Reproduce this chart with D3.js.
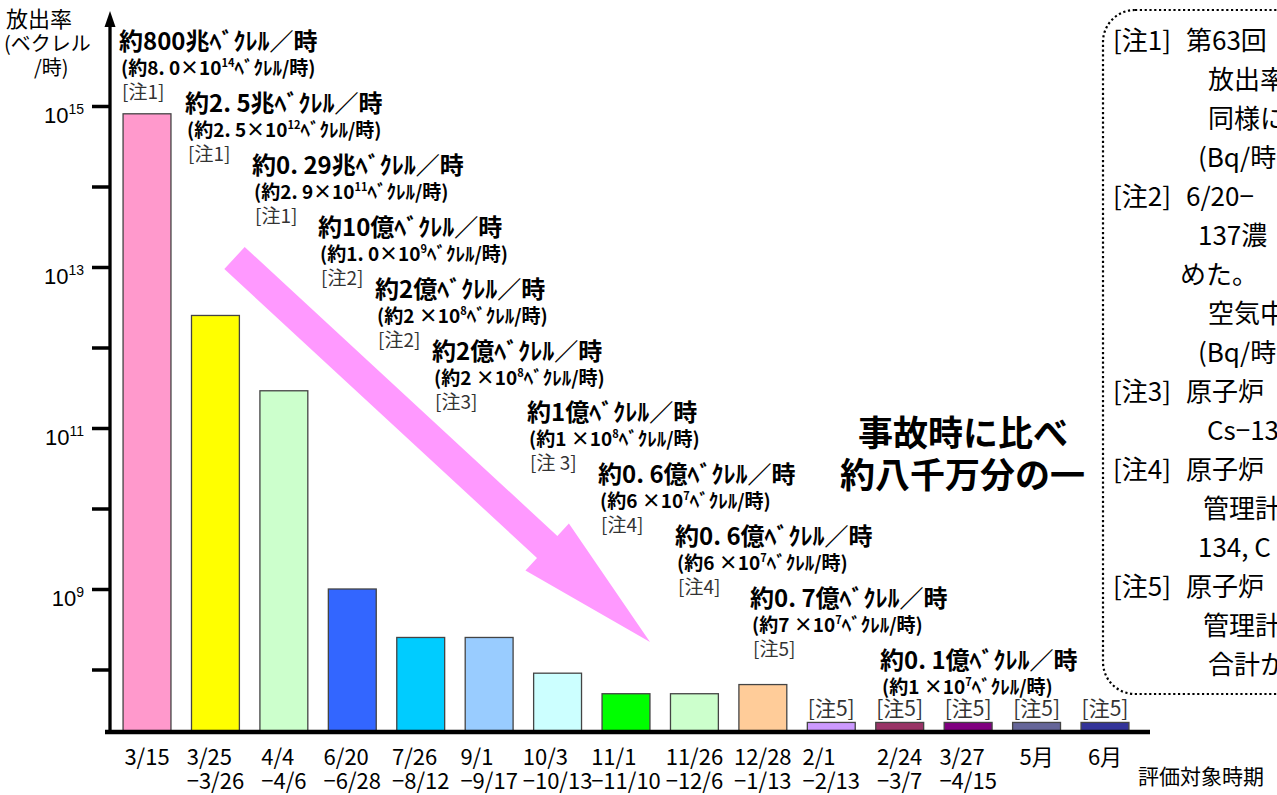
<!DOCTYPE html>
<html><head><meta charset="utf-8">
<script src="https://cdn.jsdelivr.net/npm/d3@7"></script>
<style>
html,body{margin:0;padding:0;background:#fff;}
svg{display:block;background:#fff;}
</style></head><body>
<svg id="chart" width="1277" height="795"></svg>
<script>
// ---------- data ----------
const categories = ["3/15","3/25","4/4","6/20","7/26","9/1","10/3","11/1","11/26","12/28","2/1","2/24","3/27","5月","6月"];
const periodEnds = ["","−3/26","−4/6","−6/28","−8/12","−9/17","−10/13","−11/10","−12/6","−1/13","−2/13","−3/7","−4/15","",""];
const releaseRates = [8e14, 2.5e12, 2.9e11, 1e9, 2.5e8, 2.5e8, 9e7, 5e7, 5e7, 6.5e7, 2.2e7, 2.2e7, 2.2e7, 2.2e7, 2.2e7];
const barColors = ["#FF99CC","#FFFF00","#CCFFCC","#3366FF","#00CCFF","#99CCFF","#CCFFFF","#00FF00","#CCFFCC","#FFCC99","#CC99FF","#993366","#800080","#666699","#333399"];

const rateLabels = ["約800兆ﾍﾞｸﾚﾙ／時","約2. 5兆ﾍﾞｸﾚﾙ／時","約0. 29兆ﾍﾞｸﾚﾙ／時","約10億ﾍﾞｸﾚﾙ／時","約2億ﾍﾞｸﾚﾙ／時","約2億ﾍﾞｸﾚﾙ／時","約1億ﾍﾞｸﾚﾙ／時","約0. 6億ﾍﾞｸﾚﾙ／時","約0. 6億ﾍﾞｸﾚﾙ／時","約0. 7億ﾍﾞｸﾚﾙ／時","約0. 1億ﾍﾞｸﾚﾙ／時"];
const rateMantissa = ["8. 0","2. 5","2. 9","1. 0","2 ","2 ","1 ","6 ","6 ","7 ","1 "];
const rateExponent = [14,12,11,9,8,8,8,7,7,7,7];
const noteRefs = ["[注1]","[注1]","[注1]","[注2]","[注2]","[注3]","[注 3]","[注4]","[注4]","[注5]"];
const lastNoteRefs = ["[注5]","[注5]","[注5]","[注5]","[注5]"];

const yTickExponents = [8,9,10,11,12,13,14,15];
const yTickLabeled = [9,11,13,15];

const notePrefixes = ["[注1]","","","","[注2]","","","","","[注3]","","[注4]","","","[注5]","",""];
const notesText = ["第63回","放出率","同様に","(Bq/時","6/20−","137濃","めた。","空気中","(Bq/時","原子炉","Cs−13","原子炉","管理計","134, C","原子炉","管理計","合計か"];

// ---------- layout (positions only) ----------
const annotX = [119,185,252,318,375,432,527,598,675,750,880];
const noteIndentX = [1186,1208,1208,1198,1186,1198,1180,1208,1198,1186,1207,1186,1203,1198,1186,1203,1208];

const FONT_JP = "'Noto Sans CJK JP','Noto Sans',sans-serif";
const FONT_LAT = "'Liberation Sans',Arial,sans-serif";

const svg = d3.select("#chart");
const x = d3.scaleBand().domain(categories).range([112.8,1139.2]).paddingInner(0.3).paddingOuter(0.15);
const y = d3.scaleLog().domain([1e9,1e15]).range([589,106]);
const baseY = 732;

// ---------- big arrow ----------
function arrowPath(x0,y0,x1,y1,sw,hw,hl){
  const dx=x1-x0, dy=y1-y0, L=Math.hypot(dx,dy), ux=dx/L, uy=dy/L, nx=-uy, ny=ux;
  const bx=x1-ux*hl, by=y1-uy*hl;
  const p=[[x0+nx*sw/2,y0+ny*sw/2],[bx+nx*sw/2,by+ny*sw/2],[bx+nx*hw/2,by+ny*hw/2],[x1,y1],
           [bx-nx*hw/2,by-ny*hw/2],[bx-nx*sw/2,by-ny*sw/2],[x0-nx*sw/2,y0-ny*sw/2]];
  return "M"+p.map(q=>q.join(",")).join("L")+"Z";
}
svg.append("path").attr("d",arrowPath(234.5,258,650,642,30,64,140)).attr("fill","#FF99FF");

// ---------- bars ----------
svg.append("g").selectAll("rect").data(categories).join("rect")
  .attr("x",d=>x(d)).attr("y",(d,i)=>y(releaseRates[i]))
  .attr("width",x.bandwidth()).attr("height",(d,i)=>baseY-y(releaseRates[i]))
  .attr("fill",(d,i)=>barColors[i]).attr("stroke","#444").attr("stroke-width",1.3);

// ---------- axes ----------
const yAxisG = svg.append("g").attr("transform","translate(110,0)")
  .call(d3.axisLeft(y).tickValues(yTickExponents.map(e=>Math.pow(10,e))).tickSize(18).tickFormat(""));
yAxisG.select(".domain").remove();
yAxisG.selectAll(".tick line").attr("stroke","#000").attr("stroke-width",3.5);
svg.append("line").attr("x1",110).attr("x2",110).attr("y1",baseY+2).attr("y2",24).attr("stroke","#000").attr("stroke-width",3.3);
svg.append("path").attr("d","M104.5,27L110,11L115.5,27Z").attr("fill","#000");
svg.append("line").attr("x1",105).attr("x2",1150).attr("y1",baseY).attr("y2",baseY).attr("stroke","#000").attr("stroke-width",4.5);

yTickLabeled.forEach(e=>{
  const t = svg.append("text").attr("x",84).attr("y",y(Math.pow(10,e))+17)
    .attr("text-anchor","end").attr("font-family",FONT_LAT).attr("font-size",22).attr("fill","#000");
  t.append("tspan").text("10");
  t.append("tspan").attr("font-size",14).attr("dy",-9).text(e);
});

// y title
const yt = svg.append("g").attr("font-family",FONT_JP).attr("fill","#000");
yt.append("text").attr("x",6).attr("y",27).attr("font-size",22).text("放出率");
yt.append("text").attr("x",4).attr("y",51).attr("font-size",20).text("(ベクレル");
yt.append("text").attr("x",34).attr("y",75).attr("font-size",20).text("/時)");

// x labels
categories.forEach((c,i)=>{
  const cx = x(c)+x.bandwidth()/2;
  const t = svg.append("text").attr("font-family",FONT_JP).attr("font-size",22).attr("fill","#000");
  const a = t.append("tspan").attr("y",765).text(c);
  let b = null;
  if(periodEnds[i]) b = t.append("tspan").attr("y",789).text(periodEnds[i]);
  const w = Math.max(a.node().getComputedTextLength(), b ? b.node().getComputedTextLength() : 0);
  const left = cx - w/2;
  a.attr("x",left); if(b) b.attr("x",left);
});
svg.append("text").attr("x",1138).attr("y",784).attr("font-family",FONT_JP).attr("font-size",21).text("評価対象時期");

// ---------- value annotations ----------
rateLabels.forEach((lab,i)=>{
  const gx = annotX[i], gc = 41 + 61.9*i;
  svg.append("text").attr("x",gx).attr("y",gc+9).attr("font-family",FONT_JP).attr("font-weight",700)
    .attr("font-size",24).attr("fill","#000").text(lab);
  const t2 = svg.append("text").attr("x",gx+2).attr("y",gc+27+7).attr("font-family",FONT_JP).attr("font-weight",700)
    .attr("font-size",19).attr("fill","#000");
  t2.append("tspan").text("(約"+rateMantissa[i]+"×10");
  t2.append("tspan").attr("font-size",11).attr("dy",-8).text(rateExponent[i]);
  t2.append("tspan").attr("dy",8).text("ﾍﾞｸﾚﾙ/時)");
  if(i < noteRefs.length){
    svg.append("text").attr("x",gx+3).attr("y",gc+51+7).attr("font-family",FONT_JP)
      .attr("font-size",19).attr("fill","#333").text(noteRefs[i]);
  }
});
categories.slice(-lastNoteRefs.length).forEach((c,i)=>{
  svg.append("text").attr("x",x(c)+x.bandwidth()/2).attr("y",716).attr("text-anchor","middle")
    .attr("font-family",FONT_JP).attr("font-size",21).attr("fill","#333").text(lastNoteRefs[i]);
});

// ---------- big message ----------
svg.append("text").attr("x",858).attr("y",446).attr("font-family",FONT_JP).attr("font-weight",700).attr("font-size",35).text("事故時に比べ");
svg.append("text").attr("x",840).attr("y",488).attr("font-family",FONT_JP).attr("font-weight",700).attr("font-size",35).text("約八千万分の一");

// ---------- notes box ----------
svg.append("rect").attr("x",1103).attr("y",10).attr("width",300).attr("height",684).attr("rx",32)
  .attr("fill","none").attr("stroke","#000").attr("stroke-width",2.2).attr("stroke-dasharray","2.2 2.6");
notesText.forEach((s,i)=>{
  const yy = 40+39*i+10;
  if(notePrefixes[i]){
    svg.append("text").attr("x",1113).attr("y",yy).attr("font-family",FONT_JP)
      .attr("font-size",26).attr("fill","#000").text(notePrefixes[i]);
  }
  svg.append("text").attr("x",noteIndentX[i]).attr("y",yy).attr("font-family",FONT_JP)
    .attr("font-size",26).attr("fill","#000").text(s);
});
</script>
</body></html>
